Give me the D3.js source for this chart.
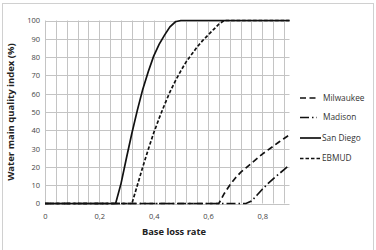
<!DOCTYPE html>
<html>
<head>
<meta charset="utf-8">
<script src="https://cdn.jsdelivr.net/npm/d3@7"></script>
<style>
  body { margin: 0; background: #fff; }
  text { font-family: "Open Sans", "Noto Sans", sans-serif; }
</style>
</head>
<body>
<div id="container"></div>
<script>
/* CONSTANTS AND GLOBALS */
const width = 376,
  height = 250,
  plotLeft = 45, plotRight = 289.5,
  plotTop = 20.5, plotBottom = 203.5;

/* DATA */
const lossRate = [0, 0.02, 0.04, 0.06, 0.08, 0.1, 0.12, 0.14, 0.16, 0.18,
  0.2, 0.22, 0.24, 0.26, 0.28, 0.3, 0.32, 0.34, 0.36, 0.38,
  0.4, 0.42, 0.44, 0.46, 0.48, 0.5, 0.52, 0.54, 0.56, 0.58,
  0.6, 0.62, 0.64, 0.66, 0.68, 0.7, 0.72, 0.74, 0.76, 0.78,
  0.8, 0.82, 0.84, 0.86, 0.88, 0.9];

const milwaukee = [0, 0, 0, 0, 0, 0, 0, 0, 0, 0,
  0, 0, 0, 0, 0, 0, 0, 0, 0, 0,
  0, 0, 0, 0, 0, 0, 0, 0, 0, 0,
  0, 0, 0, 5.5, 10, 13.8, 17, 19.5, 22, 24.5,
  27, 29.2, 31.3, 33.5, 35.5, 37.5];

const madison = [0, 0, 0, 0, 0, 0, 0, 0, 0, 0,
  0, 0, 0, 0, 0, 0, 0, 0, 0, 0,
  0, 0, 0, 0, 0, 0, 0, 0, 0, 0,
  0, 0, 0, 0, 0, 0, 0, 0, 1.3, 4.5,
  7.8, 10.8, 13.5, 16, 18.5, 21];

const sanDiego = [0, 0, 0, 0, 0, 0, 0, 0, 0, 0,
  0, 0, 0, 0, 11, 25, 38.5, 51, 62.5, 72,
  80.5, 87, 92, 96.5, 99.3, 100, 100, 100, 100, 100,
  100, 100, 100, 100, 100, 100, 100, 100, 100, 100,
  100, 100, 100, 100, 100, 100];

const ebmud = [0, 0, 0, 0, 0, 0, 0, 0, 0, 0,
  0, 0, 0, 0, 0, 0, 0, 10, 20, 29.5,
  38.5, 46.5, 54, 61, 67, 72.5, 77.5, 81.5, 85.5, 89,
  92, 95, 98, 100, 100, 100, 100, 100, 100, 100,
  100, 100, 100, 100, 100, 100];

const seriesNames = ["Milwaukee", "Madison", "San Diego", "EBMUD"];
const seriesValues = [milwaukee, madison, sanDiego, ebmud];
const dashes = ["6,3.5", "9,3,1.5,3", null, "3.5,2"];

const xTicks = [0, 0.2, 0.4, 0.6, 0.8];
const xGrid = d3.range(0, 0.9, 0.04);
const yTicks = [0, 10, 20, 30, 40, 50, 60, 70, 80, 90, 100];

// SCALES
const xScale = d3.scaleLinear().domain([0, 0.9]).range([plotLeft, plotRight]);
const yScale = d3.scaleLinear().domain([0, 100]).range([plotBottom, plotTop]);

// CREATE SVG ELEMENT
const svg = d3.select("#container")
  .append("svg")
  .attr("width", width)
  .attr("height", height);

svg.append("rect")
  .attr("x", 2.5).attr("y", 3.5)
  .attr("width", 371).attr("height", 250)
  .attr("fill", "none")
  .attr("stroke", "#d0d0d0");

// GRID
svg.append("g")
  .selectAll("line")
  .data(xGrid)
  .join("line")
  .attr("x1", d => Math.round(xScale(d)) + 0.5)
  .attr("x2", d => Math.round(xScale(d)) + 0.5)
  .attr("y1", plotTop).attr("y2", plotBottom)
  .attr("stroke", "#c4c4c4");

svg.append("g")
  .selectAll("line")
  .data(yTicks)
  .join("line")
  .attr("x1", plotLeft).attr("x2", plotRight)
  .attr("y1", d => Math.round(yScale(d)) + 0.5)
  .attr("y2", d => Math.round(yScale(d)) + 0.5)
  .attr("stroke", "#c4c4c4");

// AXES
const xAxis = d3.axisBottom(xScale)
  .tickValues(xTicks)
  .tickSize(0)
  .tickPadding(10)
  .tickFormat(d => d === 0 ? "0" : d3.format(".1f")(d).replace(".", ","));
const yAxis = d3.axisLeft(yScale)
  .tickValues(yTicks)
  .tickSize(0)
  .tickPadding(5);

svg.append("g")
  .attr("transform", `translate(0,${plotBottom})`)
  .call(xAxis)
  .call(g => g.select(".domain").remove())
  .selectAll("text")
  .attr("font-size", 7.5)
  .attr("fill", "#444");

svg.append("g")
  .attr("transform", `translate(${plotLeft},0)`)
  .call(yAxis)
  .call(g => g.select(".domain").remove())
  .selectAll("text")
  .attr("font-size", 7.5)
  .attr("fill", "#444");

// LINES
const line = d3.line()
  .x((d, i) => xScale(lossRate[i]))
  .y(d => yScale(d));

svg.append("g")
  .selectAll("path")
  .data(seriesValues)
  .join("path")
  .attr("d", d => line(d))
  .attr("fill", "none")
  .attr("stroke", "#111")
  .attr("stroke-width", 1.7)
  .attr("stroke-dasharray", (d, i) => dashes[i]);

// AXIS TITLES
svg.append("text")
  .attr("transform", `translate(14,${(plotTop + plotBottom) / 2}) rotate(-90)`)
  .attr("text-anchor", "middle")
  .attr("font-size", 9.5)
  .attr("font-weight", "bold")
  .attr("fill", "#222")
  .text("Water main quality index (%)");

svg.append("text")
  .attr("x", 174)
  .attr("y", 235)
  .attr("text-anchor", "middle")
  .attr("font-size", 9.3)
  .attr("font-weight", "bold")
  .attr("fill", "#222")
  .text("Base loss rate");

// LEGEND
const legendY = [98, 117.5, 138, 158.5];
const legend = svg.append("g")
  .selectAll("g")
  .data(seriesNames)
  .join("g")
  .attr("transform", (d, i) => `translate(300,${legendY[i]})`);

legend.append("line")
  .attr("x1", 0).attr("x2", (d, i) => i < 2 ? 17 : 21)
  .attr("stroke", "#111")
  .attr("stroke-width", 1.7)
  .attr("stroke-dasharray", (d, i) => dashes[i]);

legend.append("text")
  .attr("x", (d, i) => i < 2 ? 23 : 22)
  .attr("dy", "0.35em")
  .attr("font-size", 8.3)
  .attr("fill", "#333")
  .text(d => d);
</script>
</body>
</html>
